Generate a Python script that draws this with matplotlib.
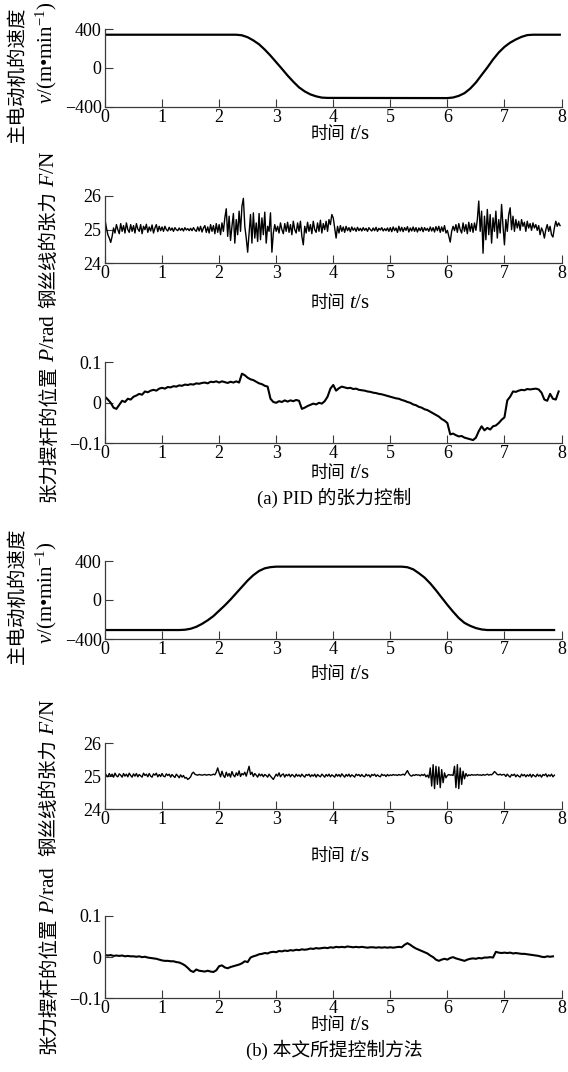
import matplotlib.pyplot as plt
import numpy as np

# fonts: Times-like digits, CJK fallback for the Chinese labels
plt.rcParams['font.family'] = ['Liberation Serif', 'Noto Sans CJK SC']
plt.rcParams['mathtext.fontset'] = 'custom'
plt.rcParams['mathtext.rm'] = 'Liberation Serif'
plt.rcParams['mathtext.it'] = 'Liberation Serif:italic'
plt.rcParams['axes.unicode_minus'] = True

##########################################
#    data   #
##########################################
time_ticks = [0, 1, 2, 3, 4, 5, 6, 7, 8]
time_tick_labels = ['0', '1', '2', '3', '4', '5', '6', '7', '8']
speed_ticks = [400, 0, -400]
speed_tick_labels = ['400', '0', '\u2212400']
tension_ticks = [26, 25, 24]
tension_tick_labels = ['26', '25', '24']
position_ticks = [0.1, 0, -0.1]
position_tick_labels = ['0.1', '0', '\u22120.1']

tension_step = 0.025   # s, sample spacing of the tension traces
position_step = 0.05   # s, sample spacing of the position traces

# (a) PID control
pid_speed_t = [0, 2.3, 2.4, 2.5, 2.6, 2.7, 2.8, 2.9, 3.0, 3.1, 3.2, 3.3, 3.4, 3.5, 3.6, 3.7, 3.8, 3.9,
               6.0, 6.1, 6.2, 6.3, 6.4, 6.5, 6.6, 6.7, 6.8, 6.9, 7.0, 7.1, 7.2, 7.3, 7.4, 7.5, 7.97]
pid_speed = [344, 344, 338, 318, 285, 245, 190, 128, 60, -8, -78, -142, -200, -242, -273, -293, -306, -309,
             -311, -305, -288, -260, -213, -150, -72, 5, 88, 160, 218, 262, 295, 322, 340, 344, 344]

pid_tension = [
    25.30, 25.05, 24.85, 24.75, 24.62, 24.80, 25.05, 24.90, 25.15, 25.00, 24.88, 25.18, 24.95, 25.12, 24.90, 25.20, 25.00, 24.92, 25.15, 24.95,
    25.12, 24.90, 25.18, 25.02, 24.95, 25.15, 24.88, 25.10, 25.00, 25.16, 24.92, 25.08, 24.96, 25.14, 24.90, 25.05, 25.15, 24.94, 25.10, 24.97,
    25.08, 24.95, 25.10, 25.00, 24.96, 25.07, 24.98, 25.05, 24.95, 25.06, 25.00, 24.97, 25.05, 24.98, 25.04, 24.96, 25.06, 24.99, 25.03, 24.97,
    25.04, 24.97, 25.06, 24.99, 24.95, 25.08, 24.96, 25.10, 24.93, 25.05, 25.12, 24.92, 25.08, 24.90, 25.15, 24.95, 25.12, 24.88, 25.18, 24.92,
    25.15, 24.85, 25.20, 24.95, 25.35, 25.62, 24.80, 25.40, 24.68, 25.10, 25.48, 24.60, 25.30, 24.85, 25.55, 24.95, 25.70, 25.93, 25.10, 24.75,
    24.33, 24.90, 25.45, 24.60, 25.50, 24.75, 25.20, 24.65, 25.48, 24.70, 25.35, 24.85, 25.52, 24.60, 25.10, 24.95, 25.50, 24.33, 24.90, 25.15,
    24.95, 25.10, 24.90, 25.20, 25.00, 24.88, 25.18, 24.95, 25.22, 24.92, 25.15, 24.85, 25.25, 25.00, 24.90, 25.20, 24.95, 25.25, 24.80, 24.55,
    25.10, 24.90, 25.22, 24.95, 25.15, 24.88, 25.25, 25.00, 24.92, 25.20, 24.95, 25.28, 24.90, 25.18, 25.00, 25.25, 24.95, 25.30, 25.15, 25.45,
    25.35, 25.05, 24.75, 25.10, 24.90, 25.12, 24.95, 25.08, 24.92, 25.10, 24.97, 25.06, 24.94, 25.08, 24.98, 25.05, 24.95, 25.07, 24.97, 25.04,
    24.96, 25.06, 24.98, 25.04, 24.95, 25.06, 25.00, 24.96, 25.05, 24.97, 25.07, 24.95, 25.04, 24.99, 25.06, 24.96, 25.03, 24.97, 25.05, 24.95,
    25.06, 24.94, 25.08, 24.97, 25.05, 24.92, 25.10, 24.96, 25.07, 24.94, 25.06, 24.98, 25.09, 24.93, 25.05, 24.96, 25.08, 24.95, 25.06, 24.93,
    25.05, 24.97, 25.07, 24.94, 25.06, 24.98, 25.04, 24.95, 25.08, 24.96, 25.06, 24.93, 25.09, 24.97, 25.10, 24.92, 25.08, 24.95, 25.12, 24.90,
    24.98, 24.80, 24.63, 24.95, 25.10, 24.97, 25.15, 24.92, 25.18, 25.00, 24.90, 25.20, 24.95, 25.15, 24.88, 25.22, 24.95, 25.18, 24.92, 25.20,
    24.98, 25.30, 25.85, 24.95, 25.55, 24.30, 25.40, 24.70, 25.60, 24.85, 25.45, 24.60, 25.35, 24.95, 25.55, 24.75, 25.30, 24.90, 25.75, 25.10,
    24.55, 25.30, 24.95, 25.45, 25.65, 25.00, 25.40, 24.95, 25.30, 25.05, 25.25, 24.98, 25.30, 25.10, 25.22, 24.95, 25.25, 25.05, 25.18, 24.98,
    25.20, 25.05, 25.15, 24.98, 25.12, 24.85, 25.05, 24.95, 24.75, 25.00, 25.15, 24.95, 25.10, 24.85, 24.78, 25.05, 25.25, 25.10, 25.20, 25.12]

pid_position = [
    0.015, 0.008, 0.000, -0.012, -0.015, -0.005, 0.005, 0.002, 0.010, 0.008,
    0.015, 0.018, 0.022, 0.020, 0.028, 0.026, 0.030, 0.032, 0.030, 0.035,
    0.037, 0.035, 0.039, 0.038, 0.041, 0.040, 0.043, 0.042, 0.045, 0.044,
    0.046, 0.045, 0.048, 0.047, 0.049, 0.050, 0.048, 0.052, 0.051, 0.053,
    0.050, 0.053, 0.051, 0.049, 0.052, 0.050, 0.053, 0.050, 0.072, 0.068,
    0.062, 0.058, 0.056, 0.052, 0.048, 0.046, 0.042, 0.040, 0.010, 0.002,
    0.000, 0.004, 0.002, 0.006, 0.003, 0.006, 0.004, 0.007, 0.005, -0.015,
    -0.012, -0.008, -0.005, -0.002, -0.004, 0.000, -0.002, 0.004, 0.015, 0.035,
    0.044, 0.030, 0.036, 0.040, 0.038, 0.036, 0.037, 0.034, 0.035, 0.032,
    0.031, 0.030, 0.028, 0.027, 0.025, 0.024, 0.022, 0.021, 0.019, 0.017,
    0.015, 0.013, 0.011, 0.010, 0.007, 0.005, 0.002, 0.000, -0.004, -0.006,
    -0.010, -0.012, -0.016, -0.018, -0.022, -0.026, -0.030, -0.034, -0.040, -0.044,
    -0.050, -0.078, -0.076, -0.080, -0.083, -0.082, -0.086, -0.088, -0.090, -0.092,
    -0.086, -0.070, -0.058, -0.068, -0.062, -0.066, -0.058, -0.056, -0.050, -0.042,
    -0.036, 0.006, 0.015, 0.028, 0.027, 0.030, 0.032, 0.031, 0.034, 0.033,
    0.034, 0.035, 0.033, 0.025, 0.008, 0.005, 0.022, 0.010, 0.008, 0.028]

# (b) proposed method
new_speed_t = [0, 1.3, 1.4, 1.5, 1.6, 1.7, 1.8, 1.9, 2.0, 2.1, 2.2, 2.3, 2.4, 2.5, 2.6, 2.7, 2.8, 2.9, 3.0,
               5.2, 5.3, 5.4, 5.5, 5.6, 5.7, 5.8, 5.9, 6.0, 6.1, 6.2, 6.3, 6.4, 6.5, 6.6, 6.7, 7.87]
new_speed = [-308, -308, -305, -295, -275, -245, -208, -165, -110, -55, 5, 70, 135, 200, 255, 298, 325, 337, 342,
             342, 336, 315, 275, 230, 170, 100, 25, -50, -120, -185, -235, -265, -288, -302, -308, -308]

new_tension = [
    25.10, 25.02, 24.98, 25.08, 25.00, 25.06, 24.97, 25.09, 25.01, 24.98, 25.07, 25.03, 24.97, 25.08, 25.00, 25.06, 24.98, 25.09, 25.02, 24.97,
    25.07, 25.00, 25.08, 24.98, 25.05, 25.01, 24.97, 25.09, 25.02, 25.06, 24.98, 25.08, 25.00, 24.97, 25.07, 25.03, 25.09, 24.98, 25.05, 24.99,
    25.08, 25.00, 24.98, 25.07, 25.02, 25.06, 24.97, 25.05, 25.00, 24.96, 25.06, 25.01, 24.95, 25.04, 24.97, 25.02, 24.94, 24.96, 24.90, 24.93,
    24.98, 25.08, 25.12, 25.06, 25.04, 25.03, 25.05, 25.04, 25.03, 25.04, 25.05, 25.03, 25.04, 25.05, 25.03, 25.04, 25.06, 25.04, 25.12, 25.25,
    25.10, 24.98, 25.15, 25.02, 24.96, 25.12, 25.00, 25.08, 24.97, 25.14, 25.03, 24.98, 25.10, 25.02, 25.16, 24.99, 25.08, 25.04, 25.12, 25.00,
    25.15, 25.30, 25.05, 25.12, 24.99, 25.08, 25.03, 24.97, 25.07, 25.01, 25.06, 24.98, 25.05, 25.02, 24.97, 25.06, 25.00, 24.95, 24.90, 24.98,
    25.06, 25.00, 25.10, 24.98, 25.04, 25.07, 24.97, 25.05, 25.01, 25.06, 24.98, 25.05, 25.02, 24.97, 25.06, 25.00, 25.04, 24.98, 25.06, 25.01,
    24.97, 25.05, 25.02, 25.06, 24.98, 25.04, 25.00, 25.06, 24.97, 25.05, 25.01, 24.98, 25.06, 25.02, 24.97, 25.05, 25.00, 25.06, 24.98, 25.04,
    25.01, 24.97, 25.06, 25.00, 25.05, 24.98, 25.07, 25.02, 24.97, 25.05, 25.00, 25.06, 24.98, 25.04, 25.01, 24.97, 25.06, 25.02, 25.05, 24.99,
    25.05, 25.00, 24.98, 25.06, 25.01, 25.04, 24.97, 25.05, 25.02, 25.06, 24.99, 25.04, 25.00, 24.98, 25.06, 25.02, 25.04, 24.99, 25.05, 25.01,
    25.04, 25.02, 25.05, 25.03, 25.04, 25.02, 25.05, 25.03, 25.04, 25.06, 25.03, 25.10, 25.17, 25.08, 25.02, 25.00, 25.04, 25.02, 25.05, 25.03,
    25.04, 25.01, 25.05, 25.02, 25.06, 24.98, 25.03, 24.95, 25.25, 24.70, 25.35, 24.62, 25.30, 24.75, 25.28, 24.65, 25.20, 24.80, 25.10, 24.95,
    25.02, 25.05, 25.03, 25.04, 25.02, 25.30, 24.65, 25.35, 24.62, 25.25, 24.75, 25.15, 24.92, 25.08, 25.00, 25.04, 25.02, 25.05, 25.03, 25.04,
    25.03, 25.05, 25.03, 25.04, 25.02, 25.05, 25.03, 25.04, 25.06, 25.03, 25.05, 25.04, 25.08, 25.14, 25.10, 25.05, 25.04, 25.06, 25.03, 25.05,
    25.05, 24.99, 25.06, 25.01, 24.97, 25.05, 25.02, 25.06, 24.98, 25.04, 25.00, 24.97, 25.06, 25.01, 25.05, 24.98, 25.04, 25.00, 25.06, 24.97,
    25.05, 25.01, 24.98, 25.06, 25.00, 25.04, 24.97, 25.05, 25.02, 25.07, 24.98, 25.04, 25.00, 25.06, 24.98, 25.03]

new_position = [
    0.005, 0.004, 0.005, 0.003, 0.004, 0.003, 0.004, 0.002, 0.003, 0.002,
    0.002, 0.001, 0.002, 0.000, 0.001, -0.001, -0.002, -0.003, -0.004, -0.006,
    -0.008, -0.009, -0.009, -0.010, -0.010, -0.012, -0.013, -0.016, -0.020, -0.026,
    -0.033, -0.036, -0.030, -0.033, -0.034, -0.035, -0.033, -0.035, -0.036, -0.032,
    -0.022, -0.020, -0.025, -0.027, -0.024, -0.022, -0.020, -0.018, -0.015, -0.010,
    -0.012, -0.001, 0.002, 0.004, 0.007, 0.008, 0.010, 0.009, 0.012, 0.013,
    0.012, 0.015, 0.014, 0.016, 0.015, 0.017, 0.016, 0.018, 0.017, 0.019,
    0.018, 0.019, 0.021, 0.020, 0.022, 0.021, 0.022, 0.023, 0.022, 0.024,
    0.023, 0.025, 0.024, 0.025, 0.024, 0.026, 0.025, 0.024, 0.025, 0.024,
    0.025, 0.024, 0.023, 0.024, 0.024, 0.023, 0.024, 0.023, 0.024, 0.023,
    0.024, 0.023, 0.024, 0.025, 0.024, 0.030, 0.034, 0.030, 0.025, 0.021,
    0.018, 0.015, 0.012, 0.009, 0.004, 0.000, -0.006, -0.009, -0.006, -0.004,
    -0.006, -0.002, 0.000, -0.003, -0.005, -0.007, -0.009, -0.006, -0.004, -0.003,
    -0.004, -0.002, -0.003, -0.001, -0.001, 0.000, -0.001, 0.013, 0.011, 0.010,
    0.011, 0.010, 0.011, 0.009, 0.010, 0.009, 0.008, 0.008, 0.007, 0.006,
    0.005, 0.004, 0.003, 0.001, 0.000, 0.002, 0.001, 0.002]

# label texts: Chinese part and the Latin (mathtext) part are drawn separately,
# since mathtext does not fall back to the CJK font
time_label = ['时间', '$t$/s']
speed_label_cn = '主电动机的速度'
speed_label_unit = '$v$/(m\u2022min$^{-1}$)'
tension_label = ['钢丝线的张力', '$F$/N']
position_label = ['张力摆杆的位置', '$P$/rad']
caption_a = '(a) PID 的张力控制'
caption_b = '(b) 本文所提控制方法'

#######################
#    figure layout    #
#######################
W, H = 568, 1072
LEFT, RIGHT = 105, 561.5
X_MID = 340

fig = plt.figure(figsize=(W / 100, H / 100), dpi=100)
renderer = fig.canvas.get_renderer()


def px(x, y):
    # pixel position (from top-left) -> figure fraction
    return x / W, 1 - y / H


def make_axes(top, bottom, yticks, yticklabels, ylim):
    ax = fig.add_axes([LEFT / W, 1 - bottom / H, (RIGHT - LEFT) / W, (bottom - top) / H])
    ax.spines[['top', 'right']].set_visible(False)
    for side in ['left', 'bottom']:
        ax.spines[side].set_color('#3a3a3a')
        ax.spines[side].set_linewidth(0.9)
    ax.set_xlim(0, 8)
    ax.set_ylim(*ylim)
    ax.set_xticks(time_ticks, time_tick_labels)
    ax.set_yticks(yticks, yticklabels)
    ax.tick_params(direction='in', length=6, width=0.8, color='#3a3a3a', labelsize=13, pad=1.5)
    ax.tick_params(axis='y', pad=2.5)
    return ax


def sample_times(values, step):
    return np.arange(len(values)) * step


def chained_text(cx, cy, pieces, sizes, vertical=False, gap=4):
    # draw the pieces one after the other on a common baseline, centred on (cx, cy) in pixels
    rot = 90 if vertical else 0
    texts = [fig.text(0, 0, s, fontsize=fs, rotation=rot, rotation_mode='anchor',
                      ha='left', va='baseline') for s, fs in zip(pieces, sizes)]
    lengths = []
    for t in texts:
        bb = t.get_window_extent(renderer)
        lengths.append(bb.height if vertical else bb.width)
    total = sum(lengths) + gap * (len(pieces) - 1)
    base = 0.36 * sizes[0] * 100 / 72
    pos = -total / 2
    for t, length in zip(texts, lengths):
        if vertical:
            t.set_position(px(cx + base, cy - pos))
        else:
            t.set_position(px(cx + pos, cy + base))
        pos += length + gap


ylabel_kw = dict(rotation=90, ha='center', va='center', fontsize=14)
caption_kw = dict(ha='center', va='center', fontsize=13.5)
XL_SIZES = [12.5, 15]
YL_SIZES = [14, 15.5]

# ---- (a) PID ----
ax1 = make_axes(29.3, 106.7, speed_ticks, speed_tick_labels, (-400, 400))
ax1.plot(pid_speed_t, pid_speed, color='black', lw=1.6)
fig.text(*px(18, 75), speed_label_cn, **ylabel_kw)
fig.text(*px(46, 53), speed_label_unit, rotation=90, ha='center', va='center', fontsize=15)
chained_text(X_MID, 133, time_label, XL_SIZES)

ax2 = make_axes(196, 263.3, tension_ticks, tension_tick_labels, (24, 26))
ax2.plot(sample_times(pid_tension, tension_step), pid_tension, color='black', lw=1.0)
chained_text(47, 229, tension_label, YL_SIZES, vertical=True)
chained_text(X_MID, 302, time_label, XL_SIZES)

ax3 = make_axes(362.3, 443.3, position_ticks, position_tick_labels, (-0.1, 0.1))
ax3.plot(sample_times(pid_position, position_step), pid_position, color='black', lw=1.5)
chained_text(47, 408, position_label, YL_SIZES, vertical=True)
chained_text(X_MID, 472, time_label, XL_SIZES)
fig.text(*px(334, 498), caption_a, **caption_kw)

# ---- (b) proposed method ----
ax4 = make_axes(561, 639, speed_ticks, speed_tick_labels, (-400, 400))
ax4.plot(new_speed_t, new_speed, color='black', lw=1.6)
fig.text(*px(18, 596), speed_label_cn, **ylabel_kw)
fig.text(*px(46, 593), speed_label_unit, rotation=90, ha='center', va='center', fontsize=15)
chained_text(X_MID, 673, time_label, XL_SIZES)

ax5 = make_axes(743.3, 809, tension_ticks, tension_tick_labels, (24, 26))
ax5.plot(sample_times(new_tension, tension_step), new_tension, color='black', lw=1.0)
chained_text(47, 777, tension_label, YL_SIZES, vertical=True)
chained_text(X_MID, 855, time_label, XL_SIZES)

ax6 = make_axes(916, 998.3, position_ticks, position_tick_labels, (-0.1, 0.1))
ax6.plot(sample_times(new_position, position_step), new_position, color='black', lw=1.5)
chained_text(47, 960, position_label, YL_SIZES, vertical=True)
chained_text(X_MID, 1024, time_label, XL_SIZES)
fig.text(*px(334, 1050), caption_b, **caption_kw)

fig.savefig('out.png', dpi=100)
